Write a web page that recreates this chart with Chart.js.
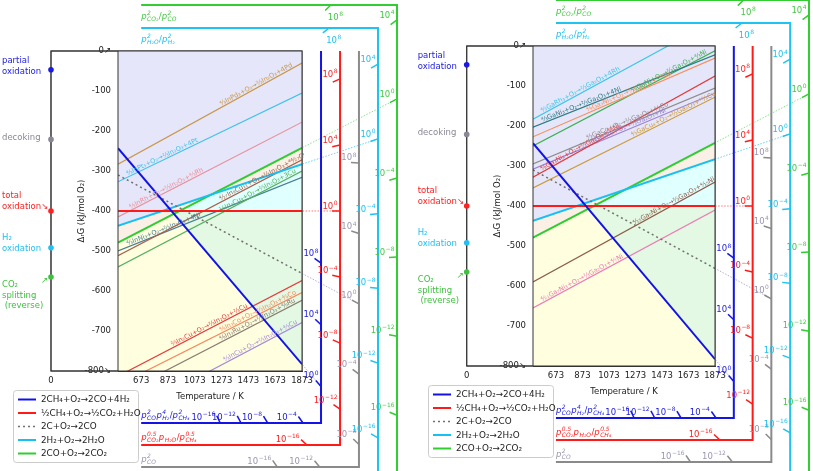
<!DOCTYPE html>
<html>
<head>
<meta charset="utf-8">
<script src="https://cdn.jsdelivr.net/npm/chart.js@4.4.1/dist/chart.umd.min.js"></script>
<style>
    html, body { margin: 0; padding: 0; background: #fff; }
    #wrap { position: relative; width: 813px; height: 471px; overflow: hidden; }
    #c1 { position: absolute; left: 0; top: 0; }
    #c2 { position: absolute; left: 405px; top: 0; }
</style>
</head>
<body>
<div id="wrap">
    <canvas id="c1" width="405" height="471"></canvas>
    <canvas id="c2" width="408" height="471"></canvas>
</div>
<script>
// 온도축 / ΔG축
const lineT = [500, 1873];               // lines are drawn from 500 K to 1873 K
const xTicks = [0, 673, 873, 1073, 1273, 1473, 1673, 1873];
const yTicks = [0, -100, -200, -300, -400, -500, -600, -700, -800];

// gas reactions (legend order)
const gasNames = ['2CH₄+O₂→2CO+4H₂', '½CH₄+O₂→½CO₂+H₂O', '2C+O₂→2CO', '2H₂+O₂→2H₂O', '2CO+O₂→2CO₂'];
const gasDG0 = [-47, -400, -221, -492, -565];      // ΔG at 0 K (dots on the left)
const gasDG500 = [-243, -400, -310, -437, -479];
const gasDG1873 = [-783, -400, -556, -283, -242];
const gasNotes = [['partial', 'oxidation'], ['total', 'oxidation↘'], ['decoking'], ['H₂', 'oxidation'], ['CO₂', 'splitting', ' (reverse)']];

// partial pressure ratio scales
const ratioExp = [8, 4, 0, -4, -8, -12, -16];
const ratioFrameT = [2015, 2157, 2298, 2440, 2582];
const ratioFrameDG = [-930, -985, -1040, 57.5, 115];
const ratioStartT = 673;
const ratioLabels = [
    [['p', '2', 'CO'], ['p', '4', 'H₂'], ['/'], ['p', '2', 'CH₄']],
    [['p', '0.5', 'CO₂'], ['p', '', 'H₂O'], ['/'], ['p', '0.5', 'CH₄']],
    [['p', '2', 'CO']],
    [['p', '2', 'H₂O'], ['/'], ['p', '2', 'H₂']],
    [['p', '2', 'CO₂'], ['/'], ['p', '2', 'CO']]
];

// In 금속간화합물 (left)
const inNames = ['⁴⁄₃InPd₃+O₂→⅔In₂O₃+4Pd', '⁴⁄₃InPt₃+O₂→⅔In₂O₃+4Pt', '⁴⁄₃InRh+O₂→⅔In₂O₃+⁴⁄₃Rh',
    '⁴⁄₂₇In₉Cu₁₁+O₂→⅔In₂O₃+⁴⁴⁄₂₇Cu', '⅓In₄Cu₉+O₂→⅔In₂O₃+3Cu', '⁴⁄₃InNi₃+O₂→⅔In₂O₃+4Ni',
    '⅔In₂Cu+O₂→⅔In₂O₃+⅔Cu', '⁴⁄₉In₃Co+O₂→⅔In₂O₃+⁴⁄₉Co', '⁴⁄₉In₃Ru+O₂→⅔In₂O₃+⁴⁄₉Ru', '⁴⁄₃InCu+O₂→⅔In₂O₃+⁴⁄₃Cu'];
const inDG500 = [-283, -327, -415, -512, -540, -500, -813, -835, -861, -921];
const inDG1873 = [-30, -105, -178, -272, -300, -316, -574, -604, -623, -679];
const inLabelT = [1274, 575, 597, 1270, 1270, 575, 910, 1270, 1270, 1300];

// Ga 금속간화합물 (right)
const gaNames = ['⁴⁄₃GaRh₃+O₂→⅔Ga₂O₃+4Rh', '⁴⁄₃GaNi₃+O₂→⅔Ga₂O₃+4Ni', '⁴⁄₉Ga₃Ni₅+O₂→⅔Ga₂O₃+²⁰⁄₉Ni',
    '⁴⁄₃GaNi+O₂→⅔Ga₂O₃+⁴⁄₃Ni', '⁴⁄₉Ga₃Ni₂+O₂→⅔Ga₂O₃+⁸⁄₉Ni', '⁴⁄₃GaCo+O₂→⅔Ga₂O₃+⁴⁄₃Co',
    '⅓Ga₄Ni₃+O₂→⅔Ga₂O₃+Ni', '⁴⁄₃GaCu₄+O₂→⅔Ga₂O₃+¹⁶⁄₃Cu', '⁴⁄₁₅Ga₅Ni+O₂→⅔Ga₂O₃+⁴⁄₁₅Ni', '⁴⁄₂₁Ga₇Ni₃+O₂→⅔Ga₂O₃+⁴⁄₇Ni'];
const gaDG500 = [-183, -203, -227, -250, -328, -295, -308, -355, -590, -655];
const gaDG1873 = [64, -22, -30, -12, -75, -105, -118, -128, -340, -410];
const gaLabelT = [574, 574, 913, 1253, 570, 913, 928, 1253, 1268, 574];

// 색상
const gasColors = ['#1212e6', '#ff1a1a', '#707070', '#18c0f2', '#30cc30'];
const extColors = ['rgba(120,120,240,0.6)', 'rgba(255,60,60,0.7)', 'rgba(150,140,200,0.7)', 'rgba(40,190,240,0.7)', 'rgba(60,210,60,0.6)'];
const noteColors = ['#1a1ae6', '#ff2020', '#888896', '#22bff0', '#40c040'];
const frameColors = ['#1414e6', '#ff1a1a', '#8a8a8a', '#1ec3f0', '#33cc33'];
const ratioTextColors = ['#2020e0', '#ff2020', '#9a96b0', '#20c0f0', '#44c844'];
const zoneColors = ['#e6e6fa', '#faf0e6', '#e0ffff', '#e3f9e3', '#ffffe0'];
const inColors = ['#c8974a', '#3fc2ea', '#e8919c', '#a8604c', '#55b060', '#4a7f96', '#e53c3c', '#f58a5e', '#8a7d70', '#a58ad6'];
const gaColors = ['#3ec6ea', '#2d7d86', '#f5905e', '#3fae57', '#e23a3a', '#8e8e8e', '#9c84d4', '#cc9a3c', '#8d5c4a', '#ea7db5'];

const FONT = 'DejaVu Sans';
const K = 8.314 * Math.LN10 / 1000;  // kJ/K per decade of the ratio

Chart.defaults.font.family = FONT;
Chart.defaults.font.size = 8.5;
Chart.defaults.color = '#222';

function lineAt(v, T) {
    return v[0] + (v[1] - v[0]) * (T - lineT[0]) / (lineT[1] - lineT[0]);
}

// 배경 영역 경계 (gas lines 교점 기준)
function zoneBounds() {
    const L = [0, 1, 3, 4].map(i => [gasDG500[i], gasDG1873[i]]);
    const ts = [lineT[0], lineT[1]];
    for (let i = 0; i < L.length; i++) {
        for (let j = i + 1; j < L.length; j++) {
            const di = L[i][1] - L[i][0], dj = L[j][1] - L[j][0];
            if (di === dj) continue;
            const s = (L[j][0] - L[i][0]) / (di - dj);
            if (s > 0 && s < 1) ts.push(lineT[0] + s * (lineT[1] - lineT[0]));
        }
    }
    ts.sort((a, b) => a - b);
    const out = [[], [], [], []];
    ts.forEach(T => {
        const [bl, rd, cy, gr] = L.map(v => lineAt(v, T));
        const hi = Math.max(cy, gr), lo = Math.min(cy, gr);
        const b3 = Math.min(lo, rd), b4 = Math.min(b3, bl);
        out[0].push({x: T, y: hi});
        out[1].push({x: T, y: lo});
        out[2].push({x: T, y: b3});
        out[3].push({x: T, y: b4});
    });
    return out;
}

function richWidth(ctx, parts, size) {
    let w = 0;
    parts.forEach(([b, sup, sub]) => {
        ctx.font = (b === '/' || b === '10' ? '' : 'italic ') + size + 'px ' + FONT;
        w += ctx.measureText(b).width;
        ctx.font = 'italic ' + (size * 0.7) + 'px ' + FONT;
        const sw = Math.max(sup ? ctx.measureText(sup).width : 0, sub ? ctx.measureText(sub).width : 0);
        w += sw ? sw + 1 : 0;
    });
    return w;
}

function drawRich(ctx, parts, x, y, size, color) {
    ctx.fillStyle = color;
    ctx.textAlign = 'left';
    ctx.textBaseline = 'alphabetic';
    parts.forEach(([b, sup, sub]) => {
        const plain = b === '/' || b === '10';
        ctx.font = (plain ? '' : 'italic ') + size + 'px ' + FONT;
        ctx.fillText(b, x, y);
        x += ctx.measureText(b).width;
        ctx.font = (plain ? '' : 'italic ') + (size * 0.7) + 'px ' + FONT;
        let w = 0;
        if (sup) { ctx.fillText(sup, x + 0.5, y - size * 0.42); w = ctx.measureText(sup).width; }
        if (sub) { ctx.fillText(sub, x + 0.5, y + size * 0.25); w = Math.max(w, ctx.measureText(sub).width); }
        x += w ? w + 1 : 0;
    });
}

const decoPlugin = {
    id: 'deco',
    beforeDatasetsDraw(chart) {
        const {ctx, chartArea: a} = chart;
        const x0 = chart.scales.x.getPixelForValue(0);
        ctx.save();
        ctx.strokeStyle = '#333';
        ctx.lineWidth = 1;
        ctx.strokeRect(x0, a.top, a.right - x0, a.bottom - a.top);
        ctx.restore();
    },
    afterDatasetsDraw(chart) {
        const {ctx, chartArea: a} = chart;
        const xs = chart.scales.x, ys = chart.scales.y;
        const P = (T, g) => ({x: xs.getPixelForValue(T), y: ys.getPixelForValue(g)});
        const x0 = xs.getPixelForValue(0);
        ctx.save();

        // plot frame over the fills
        ctx.strokeStyle = '#333';
        ctx.lineWidth = 1;
        ctx.strokeRect(x0, a.top, a.right - x0, a.bottom - a.top);
        ctx.beginPath();
        ctx.moveTo(a.left, a.top);
        ctx.lineTo(a.left, a.bottom);
        ctx.stroke();

        // 화합물 라인 라벨
        ctx.save();
        ctx.beginPath();
        ctx.rect(a.left, a.top, a.right - a.left + 2, a.bottom - a.top);
        ctx.clip();
        chart.data.datasets.forEach(ds => {
            if (!ds.noteT) return;
            const [p1, p2] = ds.data;
            const a1 = P(p1.x, p1.y), a2 = P(p2.x, p2.y);
            const ang = Math.atan2(a2.y - a1.y, a2.x - a1.x);
            const p = P(ds.noteT, p1.y + (p2.y - p1.y) * (ds.noteT - p1.x) / (p2.x - p1.x));
            ctx.save();
            ctx.translate(p.x, p.y);
            ctx.rotate(ang);
            ctx.font = '6.5px ' + FONT;
            ctx.fillStyle = ds.borderColor;
            ctx.textAlign = 'left';
            ctx.textBaseline = 'alphabetic';
            ctx.fillText(ds.label, 0, -1.5);
            ctx.restore();
        });
        ctx.restore();

        // dots at 0 K + notes
        gasDG0.forEach((v, i) => {
            const p = P(0, v);
            ctx.fillStyle = noteColors[i];
            ctx.beginPath();
            ctx.arc(p.x, p.y, 2.8, 0, Math.PI * 2);
            ctx.fill();
        });
        const noteOff = [-9, -15, -2, -10, 8];
        ctx.font = '8.5px ' + FONT;
        ctx.textAlign = 'left';
        ctx.textBaseline = 'middle';
        gasNotes.forEach((lines, i) => {
            const p = P(0, gasDG0[i]);
            ctx.fillStyle = noteColors[i];
            lines.forEach((t, k) => ctx.fillText(t, p.x - 49, p.y + noteOff[i] + k * 10.5));
            if (i === 4) ctx.fillText('↗', p.x - 10, p.y + 4);
        });

        // ratio scales: ticks + labels
        gasDG0.forEach((A, i) => {
            const B = (gasDG1873[i] - A) / lineT[1];
            const fT = ratioFrameT[i], fG = ratioFrameDG[i];
            const isTop = fG > 0;
            const vLo = isTop ? -1080 : fG, vHi = isTop ? fG : 0;
            const o = P(0, A);
            ratioExp.forEach(n => {
                const s = B + K * n;
                let T = fT, g = A + s * fT, side = 'v';
                if (g < vLo || g > vHi) {
                    g = fG;
                    T = (fG - A) / s;
                    side = isTop ? 't' : 'b';
                    if (!(T >= ratioStartT && T <= fT)) return;
                }
                const p = P(T, g);
                const d = Math.hypot(o.x - p.x, o.y - p.y);
                const q = {x: p.x + (o.x - p.x) / d * 8, y: p.y + (o.y - p.y) / d * 8};
                ctx.strokeStyle = frameColors[i];
                ctx.lineWidth = 1.5;
                ctx.beginPath();
                ctx.moveTo(p.x, p.y);
                ctx.lineTo(q.x, q.y);
                ctx.stroke();
                const parts = [['10', String(n).replace('-', '−'), '']];
                const w = richWidth(ctx, parts, 8.5);
                let lx, ly;
                if (side === 'v') { lx = p.x - 2 - w; ly = Math.min(p.y, q.y) - 2; }
                else if (side === 'b') { lx = Math.min(p.x, q.x) - 1 - w; ly = p.y - 3; }
                else { lx = p.x - 3; ly = p.y + 15; }
                drawRich(ctx, parts, lx, ly, 8.5, ratioTextColors[i]);
            });
            const s0 = P(ratioStartT, fG);
            drawRich(ctx, ratioLabels[i], s0.x, isTop ? s0.y + 14 : s0.y - 5, 8.5, ratioTextColors[i]);
        });
        ctx.restore();
    },
    afterDraw(chart) {
        // 범례
        const {ctx, chartArea: a} = chart;
        const x = a.left - 105, y = a.bottom + 19, w = 125, h = 72;
        ctx.save();
        ctx.fillStyle = 'rgba(255,255,255,0.9)';
        ctx.strokeStyle = '#cccccc';
        ctx.lineWidth = 1;
        ctx.beginPath();
        ctx.roundRect(x + 0.5, y + 0.5, w, h, 3);
        ctx.fill();
        ctx.stroke();
        gasNames.forEach((n, i) => {
            const yy = y + 9.5 + i * 13.5;
            ctx.strokeStyle = gasColors[i];
            ctx.lineWidth = i === 2 ? 1.5 : 2;
            ctx.setLineDash(i === 2 ? [2, 3] : []);
            ctx.beginPath();
            ctx.moveTo(x + 5, yy);
            ctx.lineTo(x + 23, yy);
            ctx.stroke();
            ctx.setLineDash([]);
            ctx.fillStyle = '#222';
            ctx.font = '8.8px ' + FONT;
            ctx.textAlign = 'left';
            ctx.textBaseline = 'middle';
            ctx.fillText(n, x + 28, yy + 0.5);
        });
        ctx.restore();
    }
};

function buildChart(id, names, dg500, dg1873, labelT, colors, pad, yWidth) {
    const datasets = [];

    // 배경 영역
    const zb = zoneBounds();
    const zoneFill = ['end', '-1', '-1', '-1'];
    zb.forEach((d, k) => datasets.push({
        data: d, fill: zoneFill[k], backgroundColor: zoneColors[k], borderWidth: 0, pointRadius: 0, order: 10
    }));
    datasets.push({data: zb[3], fill: 'start', backgroundColor: zoneColors[4], borderWidth: 0, pointRadius: 0, order: 10});

    // gas lines
    gasNames.forEach((n, i) => datasets.push({
        label: n,
        data: [{x: lineT[0], y: gasDG500[i]}, {x: lineT[1], y: gasDG1873[i]}],
        borderColor: gasColors[i], borderWidth: i === 2 ? 1.5 : 2, borderDash: i === 2 ? [2, 3] : [],
        pointRadius: 0, fill: false, order: 1
    }));

    // 연장선 (ratio = 1) and ratio scale frames (points listed right-to-left so nothing is cut)
    gasNames.forEach((n, i) => {
        const B = (gasDG1873[i] - gasDG0[i]) / lineT[1];
        const fT = ratioFrameT[i], fG = ratioFrameDG[i];
        datasets.push({
            data: [{x: fT, y: gasDG0[i] + B * fT}, {x: lineT[1], y: gasDG1873[i]}],
            borderColor: extColors[i], borderWidth: 1, borderDash: [1.5, 1.5],
            pointRadius: 0, fill: false, clip: false, order: 1
        });
        datasets.push({
            data: [{x: fT, y: fG > 0 ? -1080 : 0}, {x: fT, y: fG}, {x: ratioStartT, y: fG}],
            borderColor: frameColors[i], borderWidth: 2, pointRadius: 0, fill: false, clip: false, order: 1
        });
    });

    // 금속간화합물 lines
    names.forEach((n, i) => datasets.push({
        label: n, noteT: labelT[i],
        data: [{x: lineT[0], y: dg500[i]}, {x: lineT[1], y: dg1873[i]}],
        borderColor: colors[i], borderWidth: 1.2, pointRadius: 0, fill: false, order: 2
    }));

    return new Chart(document.getElementById(id), {
        type: 'line',
        data: {datasets},
        options: {
            responsive: false,
            animation: false,
            devicePixelRatio: 1,
            events: [],
            layout: {padding: pad},
            plugins: {legend: {display: false}, tooltip: {enabled: false}},
            scales: {
                x: {
                    type: 'linear', min: lineT[0], max: lineT[1],
                    afterBuildTicks: s => { s.ticks = xTicks.map(v => ({value: v})); },
                    afterFit: s => { s.height = 32; },
                    grid: {display: false, drawTicks: false},
                    border: {display: true, color: '#333'},
                    ticks: {autoSkip: false, maxRotation: 0, padding: 5, callback: v => String(v)},
                    title: {display: true, text: 'Temperature / K', padding: {top: 0, bottom: 1}}
                },
                y: {
                    type: 'linear', min: -800, max: 0,
                    afterBuildTicks: s => { s.ticks = yTicks.map(v => ({value: v})); },
                    afterFit: s => { s.width = yWidth; },
                    grid: {display: false, drawTicks: false},
                    border: {display: true, color: '#333'},
                    ticks: {
                        padding: 7,
                        callback: v => v === 0 ? '0↗' : (v === -800 ? '-800↘' : String(v))
                    },
                    title: {display: true, text: 'ΔᵣG (kJ/mol O₂)', padding: {top: 26, bottom: 0}}
                }
            }
        },
        plugins: [decoPlugin]
    });
}

buildChart('c1', inNames, inDG500, inDG1873, inLabelT, inColors, {left: 51, right: 103, top: 51, bottom: 68}, 67);
buildChart('c2', gaNames, gaDG500, gaDG1873, gaLabelT, gaColors, {left: 62, right: 98, top: 46, bottom: 73}, 66);
</script>
</body>
</html>
